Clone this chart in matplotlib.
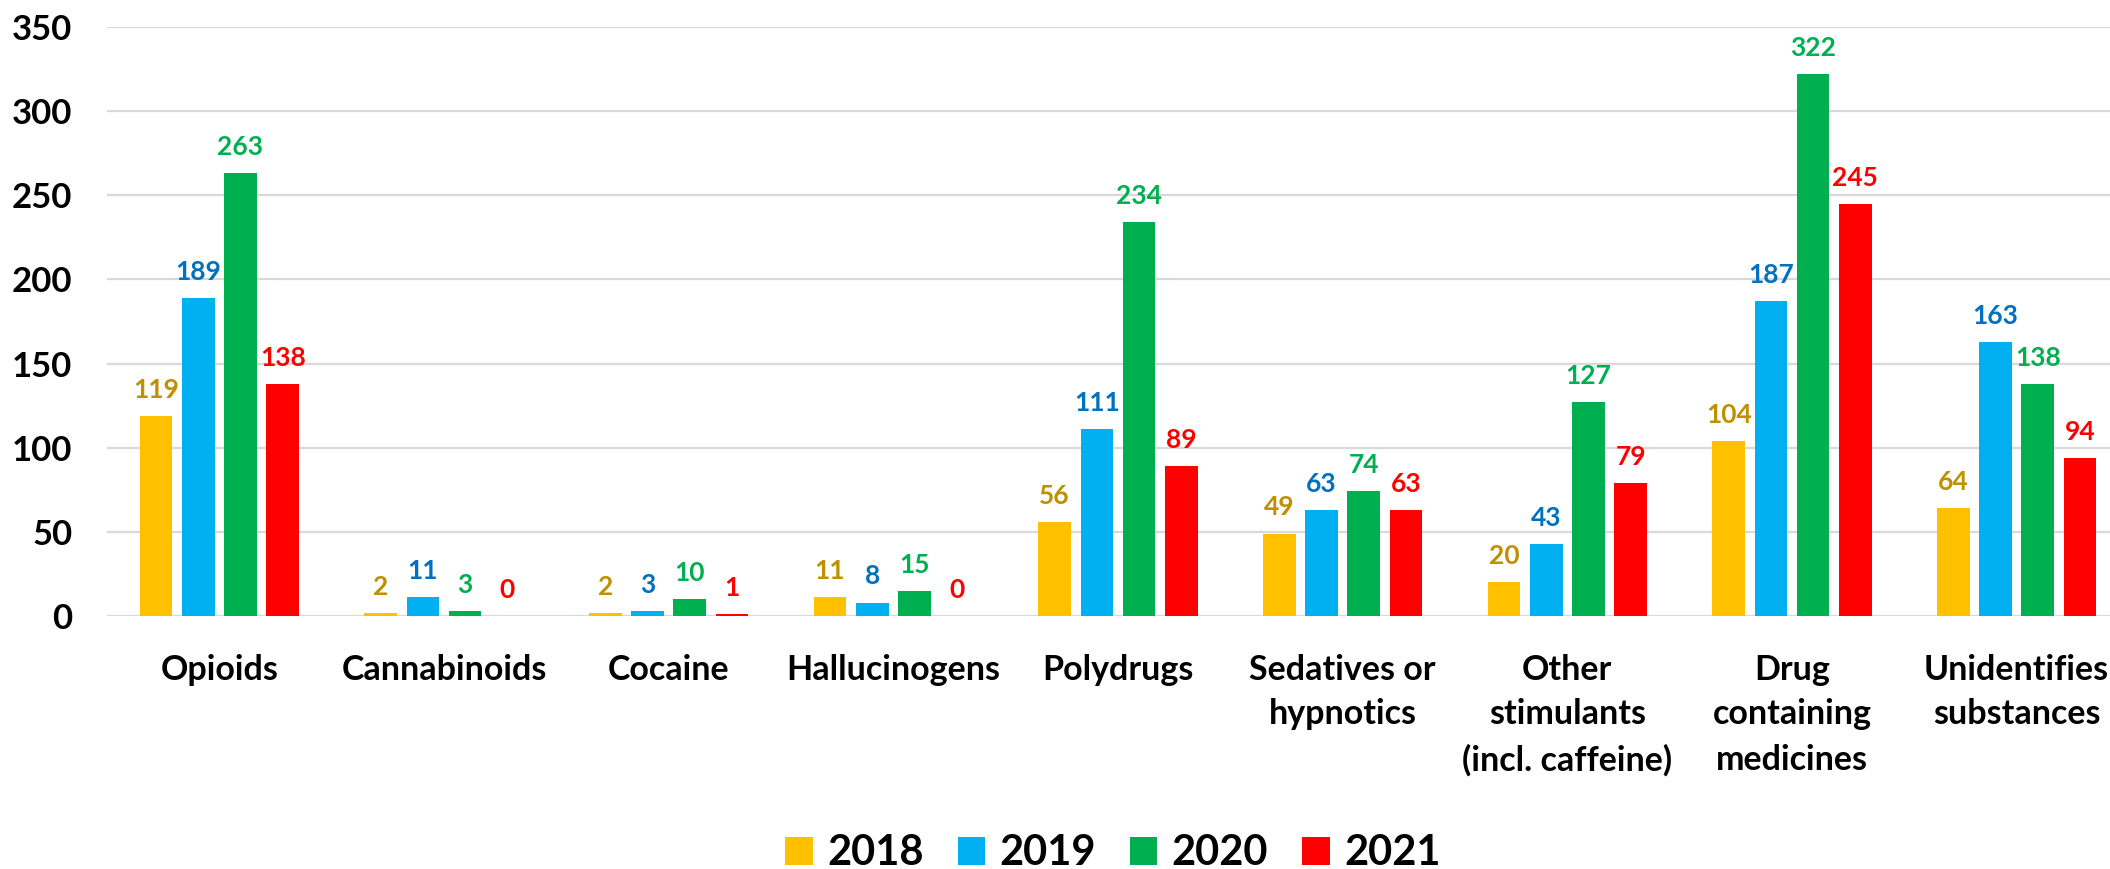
import numpy as np
import matplotlib.pyplot as plt

plt.rcParams['font.family'] = ['Lato', 'DejaVu Sans']
plt.rcParams['font.weight'] = 'bold'

# Data
categories = ['Opioids', 'Cannabinoids', 'Cocaine', 'Hallucinogens', 'Polydrugs',
              'Sedatives or\nhypnotics', 'Other\nstimulants\n(incl. caffeine)',
              'Drug\ncontaining\nmedicines', 'Unidentifies\nsubstances']
years = ['2018', '2019', '2020', '2021']
v2018 = [119, 2, 2, 11, 56, 49, 20, 104, 64]
v2019 = [189, 11, 3, 8, 111, 63, 43, 187, 163]
v2020 = [263, 3, 10, 15, 234, 74, 127, 322, 138]
v2021 = [138, 0, 1, 0, 89, 63, 79, 245, 94]

bar_colors = ['#FFC000', '#00B0F0', '#00B050', '#FF0000']
label_colors = ['#BF9000', '#0070C0', '#00B050', '#FF0000']

fig = plt.figure(figsize=(21.1, 8.69), dpi=100)
# axes runs a bit past the right edge, like the cropped original
ax = fig.add_axes([107 / 2110, 1 - 616 / 869, 2022 / 2110, 589 / 869])

x = np.arange(len(categories))
width = 0.145
step = 0.188
series = [v2018, v2019, v2020, v2021]

for i, vals in enumerate(series):
    pos = x + (i - 1.5) * step
    ax.bar(pos, vals, width, color=bar_colors[i], label=years[i], zorder=3)
    for xp, v in zip(pos, vals):
        ax.annotate(str(v), (xp, v), xytext=(0, 13), textcoords='offset points',
                    ha='center', va='baseline', fontsize=19, fontweight='bold',
                    color=label_colors[i])

ax.set_xlim(-0.5, len(categories) - 0.5)
ax.set_ylim(0, 350)
ax.set_yticks(range(0, 351, 50))
ax.set_xticks(x)
ax.set_xticklabels(categories, fontsize=24.5, fontweight='bold', linespacing=1.5)
ax.tick_params(axis='x', length=0, pad=27)
ax.tick_params(axis='y', length=0, pad=25, labelsize=25)
for lab in ax.get_yticklabels():
    lab.set_fontweight('bold')

ax.grid(axis='y', color='#D9D9D9', linewidth=1.6, zorder=0)
ax.set_axisbelow(True)
for s in ax.spines.values():
    s.set_visible(False)

fig.legend(loc='center', bbox_to_anchor=(0.5275, 0.018), ncol=4, frameon=False,
           prop={'size': 30, 'weight': 'bold'}, handlelength=0.65,
           handleheight=0.65, handletextpad=0.35, columnspacing=0.82,
           borderpad=0)

fig.savefig('out.png', dpi=100)
